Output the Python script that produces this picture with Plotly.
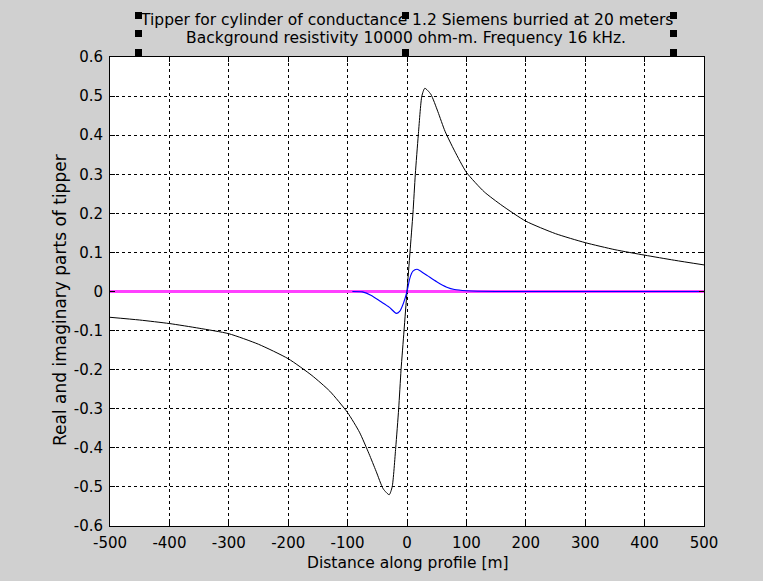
import plotly.graph_objects as go

# real part of tipper (black curve)
x_real = [-500, -450, -400, -350, -300, -250, -200, -160, -130, -100, -80, -64, -52,
          -40, -30, -25, -19, -14, -10, -5, 0, 5, 10, 14, 19, 25, 30, 40,
          52, 64, 80, 100, 130, 160, 200, 250, 300, 350, 400, 450, 500]
y_real = [-0.066, -0.073, -0.082, -0.094, -0.108, -0.135, -0.172, -0.215, -0.255, -0.31,
          -0.36, -0.415, -0.46, -0.505, -0.52, -0.50, -0.40, -0.30, -0.20, -0.10,
          0.0, 0.10, 0.20, 0.30, 0.40, 0.50, 0.52, 0.505, 0.46, 0.41, 0.36,
          0.305, 0.255, 0.22, 0.18, 0.148, 0.125, 0.107, 0.093, 0.08, 0.068]

# imaginary part of tipper (blue curve)
x_imag = [-92, -75, -60, -45, -30, -18, -12, -6, 0, 5, 10, 17, 25, 35, 50, 67, 80,
          100, 150, 200, 300, 400, 500]
y_imag = [0.0, -0.001, -0.01, -0.025, -0.04, -0.056, -0.05, -0.03, 0.0, 0.035, 0.052,
          0.057, 0.05, 0.04, 0.025, 0.011, 0.005, 0.002, 0.0, 0.0, 0.0, 0.0, 0.0]

# zero reference line (magenta)
x_zero = [-500, 500]
y_zero = [0, 0]

x_ticks = list(range(-500, 501, 100))
x_labels = [str(v) for v in x_ticks]
y_ticks = [round(-0.6 + 0.1 * i, 1) for i in range(13)]
y_labels = ["0" if v == 0 else f"{v:g}" for v in y_ticks]

title_lines = ["Tipper for cylinder of conductance 1.2 Siemens burried at 20 meters",
               "Background resistivity 10000 ohm-m. Frequency 16 kHz."]

FONT = "DejaVu Sans"
FS = 15
L, R, T, B = 110, 704, 57, 526


def px(x):
    return (x - L) / (R - L)


def py(y):
    return (B - y) / (B - T)


fig = go.Figure()
fig.add_trace(go.Scatter(x=x_zero, y=y_zero, mode="lines",
                         line=dict(color="#ff40ff", width=3)))
fig.add_trace(go.Scatter(x=x_real, y=y_real, mode="lines",
                         line=dict(color="black", width=1, shape="spline", smoothing=0.6)))
fig.add_trace(go.Scatter(x=x_imag, y=y_imag, mode="lines",
                         line=dict(color="#0000ff", width=1.1, shape="spline", smoothing=0.6)))

axis_common = dict(
    showgrid=True, gridcolor="black", gridwidth=1, griddash="3px,3px",
    zeroline=False, showline=True, linecolor="black", linewidth=1,
    mirror="ticks", ticks="inside", ticklen=5, tickcolor="black",
    tickfont=dict(family=FONT, size=FS, color="black"), ticklabelstandoff=3,
)
fig.update_xaxes(range=[-500, 500], tickvals=x_ticks, ticktext=x_labels, **axis_common)
fig.update_yaxes(range=[-0.6, 0.6], tickvals=y_ticks, ticktext=y_labels, **axis_common)

annotations = [
    dict(text=title_lines[0], x=px(406), y=py(20), font_size=15.5),
    dict(text=title_lines[1], x=px(406), y=py(38), font_size=15.5),
    dict(text="Distance along profile [m]", x=px(408), y=py(563), font_size=15.5),
    dict(text="Real and imaginary parts of tipper", x=px(60), y=py(300),
         textangle=-90, font_size=17),
]
for a in annotations:
    a.update(xref="paper", yref="paper", showarrow=False, xanchor="center",
             yanchor="middle", font=dict(family=FONT, size=a.pop("font_size"), color="black"))

# selection handles around the title
shapes = []
for hx, hy in [(135, 12), (135, 30), (135, 49), (402, 12), (402, 49),
               (670, 12), (670, 30), (670, 49)]:
    shapes.append(dict(type="rect", xref="paper", yref="paper",
                       x0=px(hx), x1=px(hx + 7), y0=py(hy), y1=py(hy + 7),
                       fillcolor="black", line=dict(width=0)))

fig.update_layout(
    width=763, height=581,
    margin=dict(l=L, r=763 - R, t=T, b=581 - B),
    paper_bgcolor="#d0d0d0", plot_bgcolor="white",
    showlegend=False,
    font=dict(family=FONT, size=FS, color="black"),
    annotations=annotations,
    shapes=shapes,
)

fig.write_html("out.html", config={"displayModeBar": False},
               post_script="document.body.style.margin='0';")
